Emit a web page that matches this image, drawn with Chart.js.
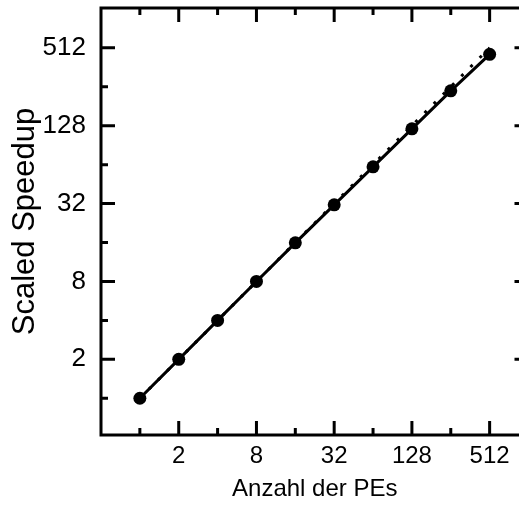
<!DOCTYPE html>
<html>
<head>
<meta charset="utf-8">
<script src="https://cdn.jsdelivr.net/npm/chart.js@4"></script>
<style>
  html, body { margin: 0; padding: 0; overflow: hidden; background: #fff; }
  #wrap { width: 535px; height: 508px; }
</style>
</head>
<body>
<div id="wrap"><canvas id="chart" width="535" height="508"></canvas></div>
<script>
// number of PEs and measured scaled speedup
var peCounts = [1, 2, 4, 8, 16, 32, 64, 128, 256, 512];
var speedup = [1, 2, 4, 8, 15.9, 31.3, 61.5, 121, 238, 456];
// ideal (linear) speedup
var idealSpeedup = [1, 2, 4, 8, 16, 32, 64, 128, 256, 512];
// tick positions, only the majors get a label
var tickValues = [1, 2, 4, 8, 16, 32, 64, 128, 256, 512];
var majorTicks = [2, 8, 32, 128, 512];

var FONT = "'Liberation Sans', Arial, sans-serif";

function pairs(xs, ys) {
  return xs.map(function(x, i) { return {x: x, y: ys[i]}; });
}

function setTicks(scale) {
  scale.ticks = tickValues.map(function(v) { return {value: v}; });
}

function tickLabel(value) {
  return majorTicks.indexOf(value) >= 0 ? String(value) : '';
}

// frame with inward ticks on all four sides
var framePlugin = {
  id: 'frame',
  afterDraw: function(chart) {
    var ctx = chart.ctx;
    var a = chart.chartArea;
    var xs = chart.scales.x, ys = chart.scales.y;
    ctx.save();
    ctx.strokeStyle = '#000';
    ctx.lineWidth = 3;
    ctx.lineCap = 'butt';
    ctx.strokeRect(a.left, a.top, a.right - a.left, a.bottom - a.top);
    tickValues.forEach(function(v) {
      var len = majorTicks.indexOf(v) >= 0 ? 14 : 7;
      var px = xs.getPixelForValue(v);
      var py = ys.getPixelForValue(v);
      ctx.beginPath();
      ctx.moveTo(px, a.bottom); ctx.lineTo(px, a.bottom - len);
      ctx.moveTo(px, a.top); ctx.lineTo(px, a.top + len);
      ctx.moveTo(a.left, py); ctx.lineTo(a.left + len, py);
      ctx.moveTo(a.right, py); ctx.lineTo(a.right - len, py);
      ctx.stroke();
    });
    ctx.restore();
  }
};

document.addEventListener('DOMContentLoaded', function() {
  new Chart('chart', {
    type: 'scatter',
    data: {
      datasets: [{
        label: 'Ideal',
        data: pairs(peCounts, idealSpeedup),
        showLine: true,
        borderColor: '#000',
        borderWidth: 3,
        borderDash: [3, 10],
        pointRadius: 0,
        order: 2
      }, {
        label: 'Scaled Speedup',
        data: pairs(peCounts, speedup),
        showLine: true,
        borderColor: '#000',
        backgroundColor: '#000',
        borderWidth: 3,
        pointRadius: 6.5,
        pointBackgroundColor: '#000',
        pointBorderWidth: 0,
        order: 1
      }]
    },
    options: {
      responsive: false,
      animation: false,
      devicePixelRatio: 1,
      layout: { padding: { top: 8, right: 1, left: 0, bottom: 0 } },
      plugins: { legend: { display: false }, tooltip: { enabled: false } },
      scales: {
        x: {
          type: 'logarithmic',
          min: 0.5,
          max: 1024,
          afterBuildTicks: setTicks,
          afterFit: function(s) { s.height = 73; s.paddingLeft = 0; s.paddingRight = 0; },
          grid: { display: false },
          border: { display: false },
          ticks: {
            autoSkip: false,
            maxRotation: 0,
            padding: -1,
            color: '#000',
            font: { family: FONT, size: 24 },
            callback: tickLabel
          },
          title: {
            display: true,
            text: 'Anzahl der PEs',
            color: '#000',
            font: { family: FONT, size: 24 },
            padding: { top: 0, bottom: 4 }
          }
        },
        y: {
          type: 'logarithmic',
          min: 0.52,
          max: 1040,
          afterBuildTicks: setTicks,
          afterFit: function(s) { s.width = 101; s.paddingTop = 0; s.paddingBottom = 0; },
          grid: { display: false },
          border: { display: false },
          ticks: {
            autoSkip: false,
            padding: 7,
            color: '#000',
            font: { family: FONT, size: 26 },
            callback: tickLabel
          },
          title: {
            display: true,
            text: 'Scaled Speedup',
            color: '#000',
            font: { family: FONT, size: 31 },
            padding: { top: 7, bottom: 0 }
          }
        }
      }
    },
    plugins: [framePlugin]
  });
});
</script>
</body>
</html>
